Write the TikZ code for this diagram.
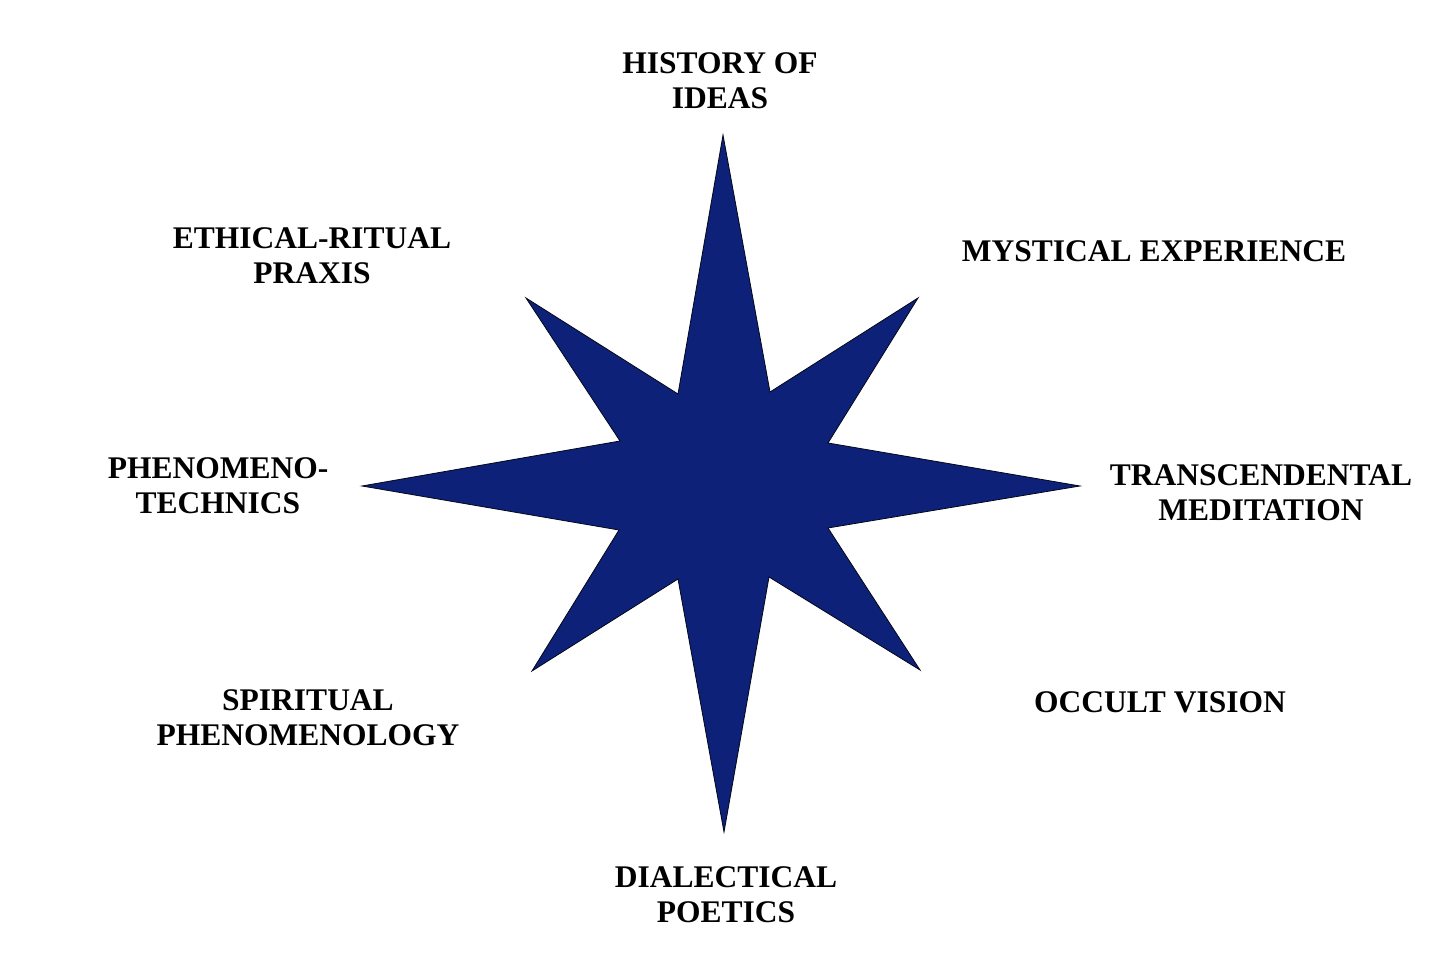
\documentclass[tikz,border=0pt]{standalone}
\usepackage{fontspec}
\setmainfont{Liberation Serif}
\definecolor{starblue}{RGB}{13,33,120}
\begin{document}
\begin{tikzpicture}[x=1pt,y=1pt,
  lbl/.style={align=center,inner sep=0pt,font=\fontsize{31.5}{35}\selectfont\bfseries,text=black}]
\useasboundingbox (0,0) rectangle (1449,964);
\fill[white] (0,0) rectangle (1449,964);
% star (pixel coords, y flipped)
\filldraw[fill=starblue,draw=black!80!starblue,line width=0.8pt,line join=miter]
  (723,964-135) -- (770,964-392) -- (918,964-298) -- (828,964-443) --
  (1080,964-486) -- (828,964-528) -- (920,964-670) -- (769,964-577) --
  (724,964-832) -- (678,964-579) -- (532,964-671) -- (619,964-530) --
  (362,964-486) -- (620,964-441) -- (526,964-298) -- (678,964-394) -- cycle;
\node[lbl] (hist) at (720,964-80.5) {HISTORY OF\\IDEAS};
\node[lbl] (ethic) at (312,964-256) {ETHICAL-RITUAL\\PRAXIS};
\node[lbl] (myst) at (1154,964-251) {MYSTICAL EXPERIENCE};
\node[lbl] (phen) at (218,964-485.5) {PHENOMENO-\\TECHNICS};
\node[lbl] (trans) at (1261,964-492.5) {TRANSCENDENTAL\\MEDITATION};
\node[lbl] (spir) at (308,964-717.5) {SPIRITUAL\\PHENOMENOLOGY};
\node[lbl] (occ) at (1160,964-702) {OCCULT VISION};
\node[lbl] (dial) at (726,964-894.5) {DIALECTICAL\\POETICS};
\end{tikzpicture}
\end{document}
